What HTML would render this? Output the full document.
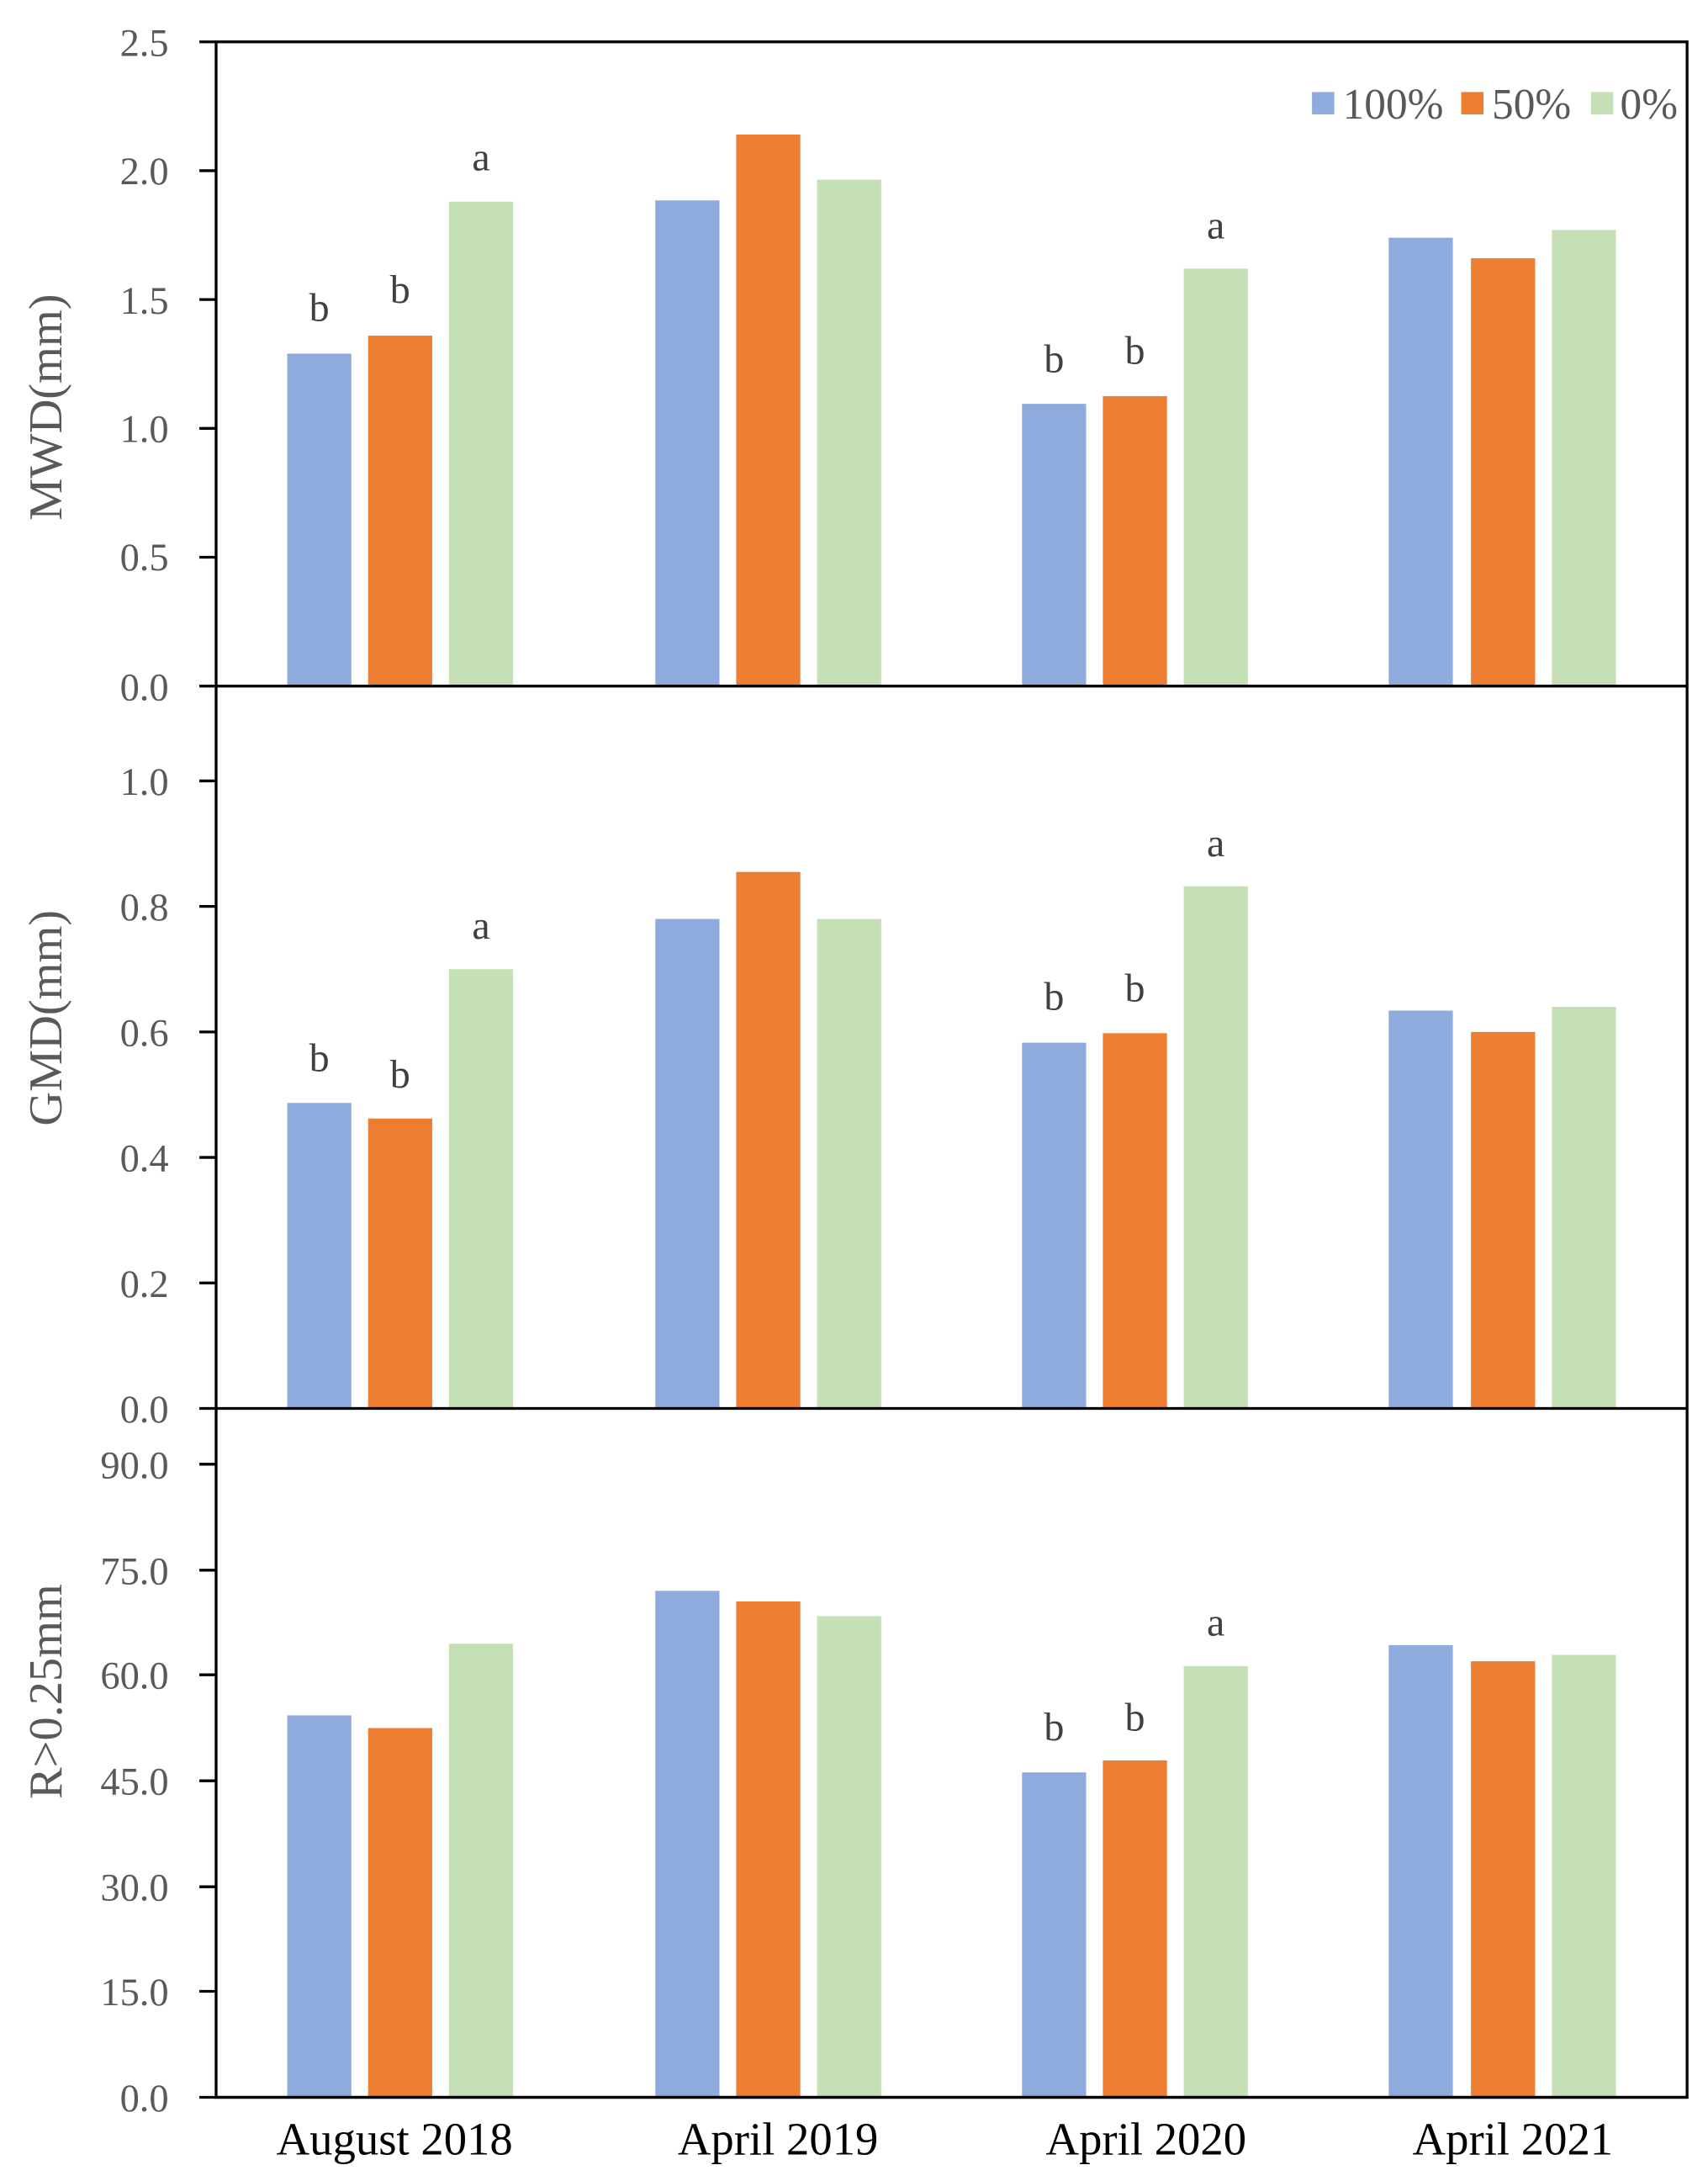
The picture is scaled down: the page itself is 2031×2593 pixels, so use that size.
<!DOCTYPE html>
<html><head><meta charset="utf-8"><style>
html,body{margin:0;padding:0;background:#fff}
svg{display:block}
.t{font-family:"Liberation Serif",serif;font-size:28px;fill:#595959}
.g{font-family:"Liberation Serif",serif;font-size:31px;fill:#595959}
.l{font-family:"Liberation Serif",serif;font-size:34px;fill:#595959}
.x{font-family:"Liberation Serif",serif;font-size:33px;fill:#000}
.s{font-family:"Liberation Serif",serif;font-size:29px;fill:#404040;text-anchor:middle}
</style></head><body>
<svg width="2031" height="2593" viewBox="0 0 1225 1564" preserveAspectRatio="none" xmlns="http://www.w3.org/2000/svg">
<g fill="#8FAADC">
<rect x="206" y="253.6" width="46" height="238.4"/><rect x="470" y="143.7" width="46" height="348.3"/><rect x="733" y="289.6" width="46" height="202.4"/><rect x="996" y="170.5" width="46" height="321.5"/>
<rect x="206" y="790.9" width="46" height="219.1"/><rect x="470" y="659" width="46" height="351"/><rect x="733" y="747.7" width="46" height="262.3"/><rect x="996" y="724.7" width="46" height="285.3"/>
<rect x="206" y="1230.1" width="46" height="273.9"/><rect x="470" y="1140.8" width="46" height="363.2"/><rect x="733" y="1271" width="46" height="233"/><rect x="996" y="1179.7" width="46" height="324.3"/>
</g>
<g fill="#ED7D31">
<rect x="264" y="240.7" width="46" height="251.3"/><rect x="528" y="96.5" width="46" height="395.5"/><rect x="791" y="284.1" width="46" height="207.9"/><rect x="1055" y="185.2" width="46" height="306.8"/>
<rect x="264" y="802.1" width="46" height="207.9"/><rect x="528" y="625.3" width="46" height="384.7"/><rect x="791" y="740.9" width="46" height="269.1"/><rect x="1055" y="740" width="46" height="270"/>
<rect x="264" y="1239.2" width="46" height="264.8"/><rect x="528" y="1148.4" width="46" height="355.6"/><rect x="791" y="1262.4" width="46" height="241.6"/><rect x="1055" y="1191.3" width="46" height="312.7"/>
</g>
<g fill="#C5E0B4">
<rect x="322" y="144.6" width="46" height="347.4"/><rect x="586" y="128.9" width="46" height="363.1"/><rect x="849" y="192.6" width="46" height="299.4"/><rect x="1113" y="164.9" width="46" height="327.1"/>
<rect x="322" y="695" width="46" height="315"/><rect x="586" y="659" width="46" height="351"/><rect x="849" y="635.6" width="46" height="374.4"/><rect x="1113" y="722" width="46" height="288"/>
<rect x="322" y="1178.7" width="46" height="325.3"/><rect x="586" y="1159" width="46" height="345"/><rect x="849" y="1194.8" width="46" height="309.2"/><rect x="1113" y="1186.7" width="46" height="317.3"/>
</g>
<g stroke="#000" stroke-width="2" fill="none">
<rect x="155" y="30" width="1055" height="1474"/>
<line x1="143" y1="492" x2="1210" y2="492"/><line x1="143" y1="1010" x2="1210" y2="1010"/><line x1="143" y1="1504" x2="1210" y2="1504"/>
<path d="M143 30H155M143 122.4H155M143 214.8H155M143 307.2H155M143 399.6H155M143 560H155M143 650H155M143 740H155M143 830H155M143 920H155M143 1050H155M143 1126H155M143 1201H155M143 1277H155M143 1353H155M143 1428H155"/>
</g>
<g class="t" text-anchor="end">
<text x="121" y="40">2.5</text><text x="121" y="132">2.0</text><text x="121" y="225">1.5</text><text x="121" y="317">1.0</text><text x="121" y="409">0.5</text><text x="121" y="502">0.0</text>
<text x="121" y="570">1.0</text><text x="121" y="660">0.8</text><text x="121" y="750">0.6</text><text x="121" y="840">0.4</text><text x="121" y="930">0.2</text><text x="121" y="1020">0.0</text>
<text x="121" y="1060">90.0</text><text x="121" y="1136">75.0</text><text x="121" y="1211">60.0</text><text x="121" y="1287">45.0</text><text x="121" y="1363">30.0</text><text x="121" y="1438">15.0</text><text x="121" y="1514">0.0</text>
</g>
<g class="l" text-anchor="middle">
<text transform="translate(44,292) rotate(-90)">MWD(mm)</text>
<text transform="translate(44,730) rotate(-90)">GMD(mm)</text>
<text transform="translate(44,1213) rotate(-90)">R&gt;0.25mm</text>
</g>
<g class="x" text-anchor="middle">
<text x="283" y="1545">August 2018</text><text x="558" y="1545">April 2019</text><text x="822" y="1545">April 2020</text><text x="1085" y="1545">April 2021</text>
</g>
<g class="s">
<text x="229" y="230">b</text><text x="287" y="217">b</text><text x="345" y="122">a</text>
<text x="756" y="267">b</text><text x="814" y="261">b</text><text x="872" y="171">a</text>
<text x="229" y="768">b</text><text x="287" y="780">b</text><text x="345" y="673">a</text>
<text x="756" y="724">b</text><text x="814" y="718">b</text><text x="872" y="614">a</text>
<text x="756" y="1248">b</text><text x="814" y="1241">b</text><text x="872" y="1173">a</text>
</g>
<rect x="941" y="66" width="16" height="16" fill="#8FAADC"/><rect x="1048" y="66" width="16" height="16" fill="#ED7D31"/><rect x="1141" y="66" width="16" height="16" fill="#C5E0B4"/>
<g class="g"><text x="963" y="85">100%</text><text x="1070" y="85">50%</text><text x="1162" y="85">0%</text></g>
</svg>
</body></html>
